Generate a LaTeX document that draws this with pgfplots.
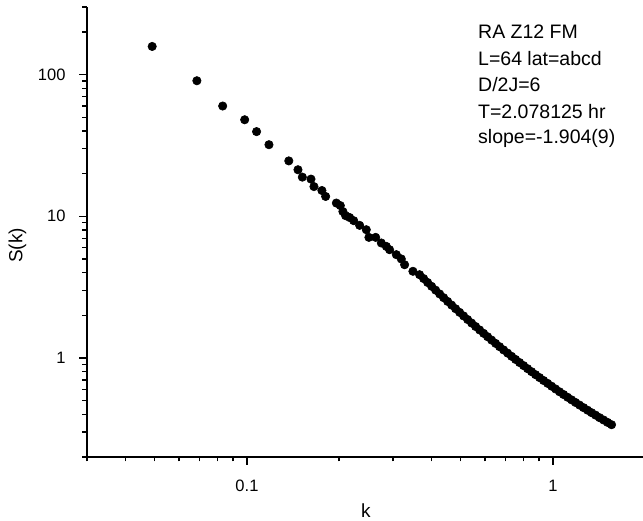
\documentclass[border=0pt]{standalone}
\usepackage{fontspec}
\setmainfont{Liberation Sans}
\usepackage{pgfplots}
\usepackage{pgfplotstable}
\pgfplotsset{compat=1.18}

% S(k), k and S(k)
\pgfplotstableread{
k S
0.0490 158
0.0686 90.5
0.0833 60.0
0.0983 48.0
0.1075 39.6
0.1180 32.0
0.1370 24.6
0.1468 21.3
0.1517 18.9
0.1619 18.3
0.1656 16.2
0.1758 15.2
0.1808 13.8
0.1960 12.4
0.2019 11.9
0.2059 10.8
0.2101 10.1
0.2166 9.80
0.2233 9.31
0.2335 8.63
0.2455 8.04
0.2504 7.10
0.2634 7.10
0.2749 6.48
0.2855 6.13
0.2925 5.81
0.3078 5.36
0.3195 5.00
0.3276 4.55
0.3487 4.09
0.3667 3.87
0.3780 3.633
0.3895 3.410
0.4014 3.203
0.4137 3.010
0.4264 2.830
0.4394 2.663
0.4528 2.506
0.4667 2.361
0.4809 2.225
0.4956 2.098
0.5107 1.979
0.5263 1.868
0.5424 1.764
0.5590 1.667
0.5761 1.576
0.5937 1.492
0.6118 1.412
0.6305 1.337
0.6497 1.267
0.6696 1.201
0.6900 1.139
0.7111 1.082
0.7328 1.027
0.7552 0.976
0.7783 0.928
0.8021 0.883
0.8266 0.840
0.8518 0.800
0.8778 0.762
0.9046 0.727
0.9323 0.693
0.9608 0.662
0.9901 0.632
1.0204 0.604
1.0515 0.577
1.0836 0.552
1.1167 0.528
1.1508 0.506
1.1860 0.485
1.2222 0.465
1.2595 0.446
1.2980 0.428
1.3376 0.411
1.3785 0.395
1.4206 0.379
1.4640 0.365
1.5087 0.351
1.5548 0.338
}\sk

\begin{document}
\begin{tikzpicture}
\begin{axis}[
  at={(0,0)}, anchor=south west,
  scale only axis, width=558bp, height=450bp,
  xmode=log, ymode=log,
  xmin=0.03, xmax=2, ymin=0.2, ymax=300,
  axis x line*=bottom, axis y line*=left,
  axis line style={line width=1.3bp, black},
  tick align=outside,
  major tick length=8bp, minor tick length=4.5bp,
  every tick/.style={black, line width=1.2bp},
  xtick={0.1,1}, xticklabels={0.1,1},
  ytick={1,10,100}, yticklabels={1,10,100},
  minor xtick={0.03,0.04,0.05,0.06,0.07,0.08,0.09,0.2,0.3,0.4,0.5,0.6,0.7,0.8,0.9,2},
  minor ytick={0.2,0.3,0.4,0.5,0.6,0.7,0.8,0.9,2,3,4,5,6,7,8,9,20,30,40,50,60,70,80,90,200,300},
  xticklabel style={font=\fontsize{16.5bp}{20bp}\selectfont, yshift=-11.5bp},
  yticklabel style={font=\fontsize{16.5bp}{20bp}\selectfont, xshift=-10bp},
  xlabel={k}, ylabel={S(k)},
  xlabel style={font=\fontsize{19bp}{22bp}\selectfont,
    at={(axis description cs:0.5,0)}, anchor=base, yshift=-60bp},
  ylabel style={font=\fontsize{19bp}{22bp}\selectfont,
    at={(axis description cs:0,0.47)}, anchor=center, yshift=69.5bp},
  clip=false,
]
\addplot[only marks, mark=*, mark size=4.2bp,
  mark options={fill=black, draw=black, line width=0.6bp}] table[x=k, y=S] {\sk};

\begin{scope}[every node/.style={anchor=base west, inner sep=0pt,
    font=\fontsize{19.5bp}{24bp}\selectfont}]
\node at (rel axis cs:0.7007,0.9304) {RA Z12 FM};
\node at (rel axis cs:0.7007,0.8696) {L=64 lat=abcd};
\node at (rel axis cs:0.7007,0.8118) {D/2J=6};
\node at (rel axis cs:0.7007,0.7527) {T=2.078125 hr};
\node at (rel axis cs:0.7007,0.6956) {slope=-1.904(9)};
\end{scope}
\end{axis}
\pgfresetboundingbox
\path[use as bounding box] (-87bp,-64bp) rectangle (556bp,457bp);
\end{tikzpicture}
\end{document}
